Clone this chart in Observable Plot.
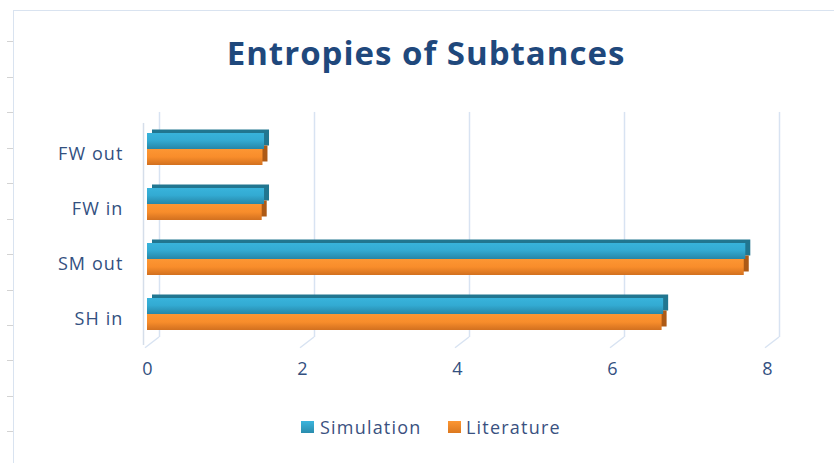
<!DOCTYPE html>
<html>
<head>
<meta charset="utf-8">
<script src="https://cdn.jsdelivr.net/npm/d3@7"></script>
<script src="https://cdn.jsdelivr.net/npm/@observablehq/plot@0.6"></script>
<style>
  html, body { margin: 0; padding: 0; background: #fff; }
  #chart { position: relative; width: 834px; height: 463px; overflow: hidden; background: #fff; font-family: "Open Sans", sans-serif; }
  #border { position: absolute; left: 13px; top: 10px; right: -5px; bottom: -5px; border-left: 1.5px solid #D9E3F0; border-top: 1.5px solid #D9E3F0; }
  #title { position: absolute; left: 9px; top: 36px; width: 834px; text-align: center; font-family: "Open Sans", sans-serif; font-weight: 700; font-size: 33px; line-height: 33px; letter-spacing: 1px; color: #1F487C; }
  #plot { position: absolute; left: 0; top: 100px; }
  #plot svg text { letter-spacing: 1.1px; }
  #plot svg text.num { letter-spacing: 0; }
  .lg-sw { position: absolute; width: 13px; height: 12px; }
  .lg-tx { position: absolute; font-size: 18px; line-height: 18px; letter-spacing: 1.2px; color: #3A5180; }
  .rowtick { position: absolute; left: 7px; width: 6px; height: 1px; background: #D3D3D3; }
</style>
</head>
<body>
<svg width="0" height="0" style="position:absolute">
  <defs>
    <linearGradient id="gSim" x1="0" y1="0" x2="0" y2="1">
      <stop offset="0" stop-color="#38B3DB"/>
      <stop offset="0.45" stop-color="#33ABD3"/>
      <stop offset="1" stop-color="#2686A7"/>
    </linearGradient>
    <linearGradient id="gLit" x1="0" y1="0" x2="0" y2="1">
      <stop offset="0" stop-color="#FC9633"/>
      <stop offset="0.5" stop-color="#F88D2B"/>
      <stop offset="1" stop-color="#D2701F"/>
    </linearGradient>
  </defs>
</svg>
<div id="chart">
  <div id="border"></div>
  <div id="title">Entropies of Subtances</div>
  <div id="plot"></div>
  <div class="lg-sw" style="left:301px;top:421px;background:linear-gradient(#3BB5DD,#2A8CAD);"></div>
  <div class="lg-tx" style="left:320px;top:418px;">Simulation</div>
  <div class="lg-sw" style="left:448px;top:421px;background:linear-gradient(#FC9633,#DC781F);"></div>
  <div class="lg-tx" style="left:466px;top:418px;">Literature</div>
</div>
<script>
// ---- data ----
const categories = ["FW out", "FW in", "SM out", "SH in"];
const simulation = [1.51, 1.51, 7.72, 6.66];
const literature = [1.49, 1.48, 7.70, 6.64];
const xTicks = [0, 2, 4, 6, 8];
const seriesNames = ["Simulation", "Literature"];

// decorative spreadsheet row ticks at left edge
const chart = document.getElementById("chart");
[41, 77, 112, 148, 183, 219, 254, 290, 325, 360, 396, 431].forEach(y => {
  const d = document.createElement("div");
  d.className = "rowtick";
  d.style.top = y + "px";
  chart.appendChild(d);
});

const rows = categories.map((c, i) => ({category: c, simulation: simulation[i], literature: literature[i]}));

const W = 834, H = 290;
const mTop = 19.45, mBottom = 47.75;
const bw = 32; // approx band width
const half = bw / 2;
const depthX = 5, depthY = -3.5;
const gridColor = "#D8E3F2";
const textColor = "#33507F";

const plot = Plot.plot({
  width: W,
  height: H,
  marginLeft: 147,
  marginRight: 67,
  marginTop: mTop,
  marginBottom: mBottom,
  style: {fontFamily: "'Open Sans', sans-serif", fontSize: "18px", color: textColor, background: "transparent", overflow: "visible"},
  x: {domain: [0, 8], axis: null},
  y: {domain: categories, axis: null, paddingInner: 0.425, paddingOuter: 0.2125},
  marks: [
    // back-wall gridlines
    Plot.ruleX(xTicks, {x: d => d, dx: 12, insetTop: -7.5, insetBottom: 5.25, stroke: gridColor, strokeWidth: 1.5}),
    // front edge of left wall
    Plot.ruleX([0], {x: d => d, dx: -4, insetTop: 3.5, insetBottom: -2.75, stroke: "#D5DEEA", strokeWidth: 1.5}),
    // 3D depth (back copies)
    Plot.barX(rows, {y: "category", x: "simulation", insetBottom: half, dx: depthX, dy: depthY, fill: "#217690"}),
    Plot.barX(rows, {y: "category", x: "literature", insetTop: half, dx: depthX, dy: depthY, fill: "#AD5A16"}),
    // front faces
    Plot.barX(rows, {y: "category", x: "simulation", insetBottom: half, fill: "url(#gSim)"}),
    Plot.barX(rows, {y: "category", x: "literature", insetTop: half, fill: "url(#gLit)"}),
    // category labels
    Plot.text(categories, {y: d => d, text: d => d, frameAnchor: "left", textAnchor: "end", dx: -24, dy: 5, fill: textColor, fontSize: 18}),
    // x tick labels
    Plot.text(xTicks, {x: d => d, text: d => String(d), frameAnchor: "bottom", dy: 32.3, fill: textColor, fontSize: 18})
  ]
});

document.getElementById("plot").appendChild(plot);

// slanted floor segments of the gridlines, placed through the plot's x scale
const xs = plot.scale("x");
const frameBottom = H - mBottom;
const svg = d3.select(plot);
const g = svg.insert("g", ":first-child").attr("class", "floor");
xTicks.forEach(t => {
  const px = xs.apply(t);
  g.append("line")
    .attr("x1", px + 12).attr("y1", frameBottom - 5.25)
    .attr("x2", px - 2).attr("y2", frameBottom + 5.5)
    .attr("stroke", gridColor).attr("stroke-width", 1.5);
});
// number labels without letter spacing
svg.selectAll("text").each(function() {
  const t = d3.select(this).text();
  if (/^\d+$/.test(t)) d3.select(this).classed("num", true);
});
</script>
</body>
</html>
